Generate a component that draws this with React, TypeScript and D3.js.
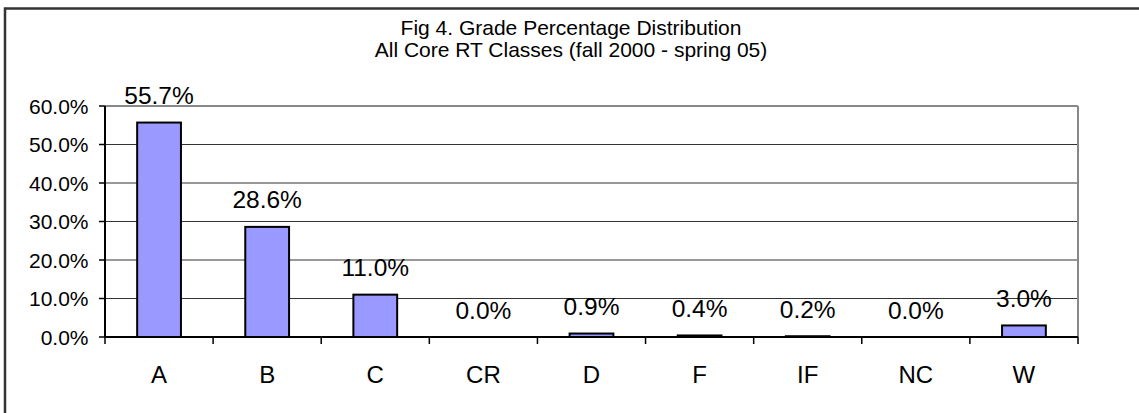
import { useMemo } from "react";
import * as d3 from "d3";

const categories = ["A", "B", "C", "CR", "D", "F", "IF", "NC", "W"];
const percents = [55.7, 28.6, 11.0, 0.0, 0.9, 0.4, 0.2, 0.0, 3.0];
const yTicks = [0, 10, 20, 30, 40, 50, 60];
const titleLines = [
  "Fig 4. Grade Percentage Distribution",
  "All Core RT Classes (fall 2000 - spring 05)",
];

const W = 1139;
const H = 413;
const plot = { left: 105, right: 1078, top: 106, bottom: 337 };
const FONT = "'Liberation Sans', Arial, Helvetica, sans-serif";

export default function App() {
  const x = useMemo(
    () =>
      d3
        .scaleBand<string>()
        .domain(categories)
        .range([plot.left, plot.right])
        .paddingInner(0)
        .paddingOuter(0),
    [],
  );
  const y = useMemo(
    () => d3.scaleLinear().domain([0, 60]).range([plot.bottom, plot.top]),
    [],
  );

  const bw = x.bandwidth();
  const barW = bw * 0.405;
  // boundaries between categories for the x ticks
  const xTickPos = categories.map((c) => x(c)!).concat([plot.right]);

  return (
    <svg
      width={W}
      height={H}
      style={{ position: "absolute", left: 0, top: 0, background: "#fff" }}
      fontFamily={FONT}
    >
      {/* outer chart frame (runs off right and bottom) */}
      <rect
        x={5}
        y={8.5}
        width={W + 10}
        height={H + 10}
        fill="#fff"
        stroke="#333"
        strokeWidth={2.5}
      />

      {/* title */}
      {titleLines.map((t, i) => (
        <text
          key={t}
          x={571}
          y={35 + i * 22}
          textAnchor="middle"
          fontSize={21}
          fill="#000"
        >
          {t}
        </text>
      ))}

      {/* gridlines */}
      {yTicks.slice(1, -1).map((t) => (
        <line
          key={t}
          x1={plot.left}
          x2={plot.right}
          y1={y(t)}
          y2={y(t)}
          stroke="#333"
          strokeWidth={1}
        />
      ))}
      {/* plot frame top/right */}
      <line
        x1={plot.left}
        x2={plot.right}
        y1={y(60)}
        y2={y(60)}
        stroke="#888"
        strokeWidth={2}
      />
      <line
        x1={plot.right}
        x2={plot.right}
        y1={plot.top}
        y2={plot.bottom}
        stroke="#888"
        strokeWidth={2}
      />

      {/* bars */}
      {categories.map((c, i) => {
        const v = percents[i];
        const cx = x(c)! + bw / 2;
        return (
          <g key={c}>
            {v > 0 && (
              <rect
                x={cx - barW / 2}
                y={y(v)}
                width={barW}
                height={y(0) - y(v)}
                fill="#9999FF"
                stroke="#000"
                strokeWidth={2}
              />
            )}
            <text
              x={cx}
              y={y(v) - 18.5}
              textAnchor="middle"
              fontSize={24.5}
              fill="#000"
            >
              {v.toFixed(1) + "%"}
            </text>
            <text
              x={cx}
              y={383}
              textAnchor="middle"
              fontSize={24}
              fill="#000"
            >
              {c}
            </text>
          </g>
        );
      })}

      {/* y axis */}
      <line
        x1={plot.left}
        x2={plot.left}
        y1={plot.top}
        y2={plot.bottom}
        stroke="#000"
        strokeWidth={2}
      />
      {yTicks.map((t) => (
        <g key={t}>
          <line
            x1={plot.left - 6}
            x2={plot.left}
            y1={y(t)}
            y2={y(t)}
            stroke="#000"
            strokeWidth={1.5}
          />
          <text
            x={88.5}
            y={y(t) + 7.5}
            textAnchor="end"
            fontSize={21}
            fill="#000"
          >
            {t.toFixed(1) + "%"}
          </text>
        </g>
      ))}

      {/* x axis */}
      <line
        x1={plot.left}
        x2={plot.right}
        y1={plot.bottom}
        y2={plot.bottom}
        stroke="#000"
        strokeWidth={2}
      />
      {xTickPos.map((px, i) => (
        <line
          key={i}
          x1={px}
          x2={px}
          y1={plot.bottom}
          y2={plot.bottom + 7}
          stroke="#000"
          strokeWidth={1.5}
        />
      ))}
    </svg>
  );
}
